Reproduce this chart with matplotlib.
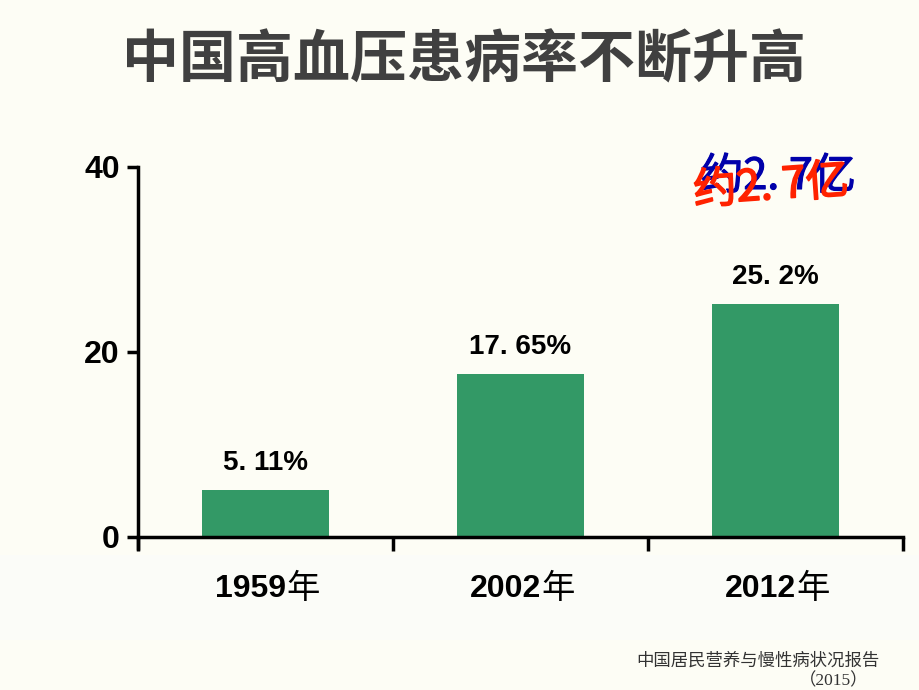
import matplotlib.pyplot as plt
import matplotlib.patches as mpatches
import matplotlib.patheffects as pe

plt.rcParams['font.family'] = ['Liberation Sans', 'Noto Sans CJK SC', 'DejaVu Sans']

years = ['1959年', '2002年', '2012年']
rates = [5.11, 17.65, 25.2]
rate_labels = ['5. 11%', '17. 65%', '25. 2%']
yticks = [0, 20, 40]

bg = '#FDFDF5'
bar_color = '#339966'

fig = plt.figure(figsize=(9.2, 6.9), dpi=100)
fig.patch.set_facecolor(bg)

# faint lighter band behind the category labels
fig.patches.append(mpatches.Rectangle((0, 1 - 640 / 690), 1, 85 / 690,
                                      transform=fig.transFigure,
                                      facecolor='#FBFCF8', edgecolor='none', zorder=-10))

ax = fig.add_axes([138 / 920, 1 - 537 / 690, (903 - 138) / 920, (537 - 167) / 690])
ax.set_facecolor('none')

x = range(len(years))
ax.bar(x, rates, width=0.5, color=bar_color, zorder=2)
ax.set_xlim(-0.5, 2.5)
ax.set_ylim(0, 40)

for xi, v, lab in zip(x, rates, rate_labels):
    ax.text(xi, v + 1.5, lab, ha='center', va='bottom', fontsize=20,
            fontweight='bold', color='black')

for s in ['top', 'right']:
    ax.spines[s].set_visible(False)
for s in ['left', 'bottom']:
    ax.spines[s].set_linewidth(2.5)
    ax.spines[s].set_color('black')

# y axis continues a little below zero
ax.plot([0, 0], [0, -0.035], transform=ax.transAxes, color='black',
        lw=2.5, clip_on=False, solid_capstyle='butt')

ax.set_yticks(yticks)
ax.set_yticklabels([str(t) for t in yticks], fontsize=23, fontweight='bold')
ax.tick_params(axis='y', direction='out', length=8, width=2.5, pad=5)

ax.set_xticks([-0.5, 0.5, 1.5, 2.5])
ax.set_xticklabels([])
ax.tick_params(axis='x', direction='out', length=10, width=2.5)

for xi, lab in zip(x, years):
    num, ch = lab[:-1], lab[-1]
    ax.text(xi + 0.08, -5.6, num, ha='right', va='center', clip_on=False,
            fontsize=23, fontweight='bold', color='black')
    ax.text(xi + 0.08, -5.6, ch, ha='left', va='center', clip_on=False,
            fontsize=24, color='black', family=['Noto Sans CJK SC'])

fig.text(464 / 920, 1 - 60 / 690, '中国高血压患病率不断升高', ha='center', va='center',
         fontsize=41, fontweight='bold', color='#404040',
         family=['Noto Sans CJK SC'])

# overlapping blue / red annotation
fig.text(778 / 920, 1 - 177 / 690, '约2. 7亿', ha='center', va='center',
         fontsize=31, color='#0000AA', family=['Noto Sans CJK SC'],
         path_effects=[pe.withStroke(linewidth=0.8, foreground='#0000AA')])
fig.text(771 / 920, 1 - 187 / 690, '约2. 7亿', ha='center', va='center',
         fontsize=31, color='#FF2200', family=['Noto Sans CJK SC'], rotation=4,
         path_effects=[pe.withStroke(linewidth=1.2, foreground='#FF2200')])

fig.text(880 / 920, 1 - 661 / 690, '中国居民营养与慢性病状况报告', ha='right', va='center',
         fontsize=12.5, color='#333333', family=['Noto Sans CJK SC'])
fig.text(868 / 920, 1 - 681 / 690, '（2015）', ha='right', va='center',
         fontsize=12.5, color='#333333', family=['Liberation Serif', 'Noto Sans CJK SC'])

fig.savefig('out.png', dpi=100, facecolor=bg)
